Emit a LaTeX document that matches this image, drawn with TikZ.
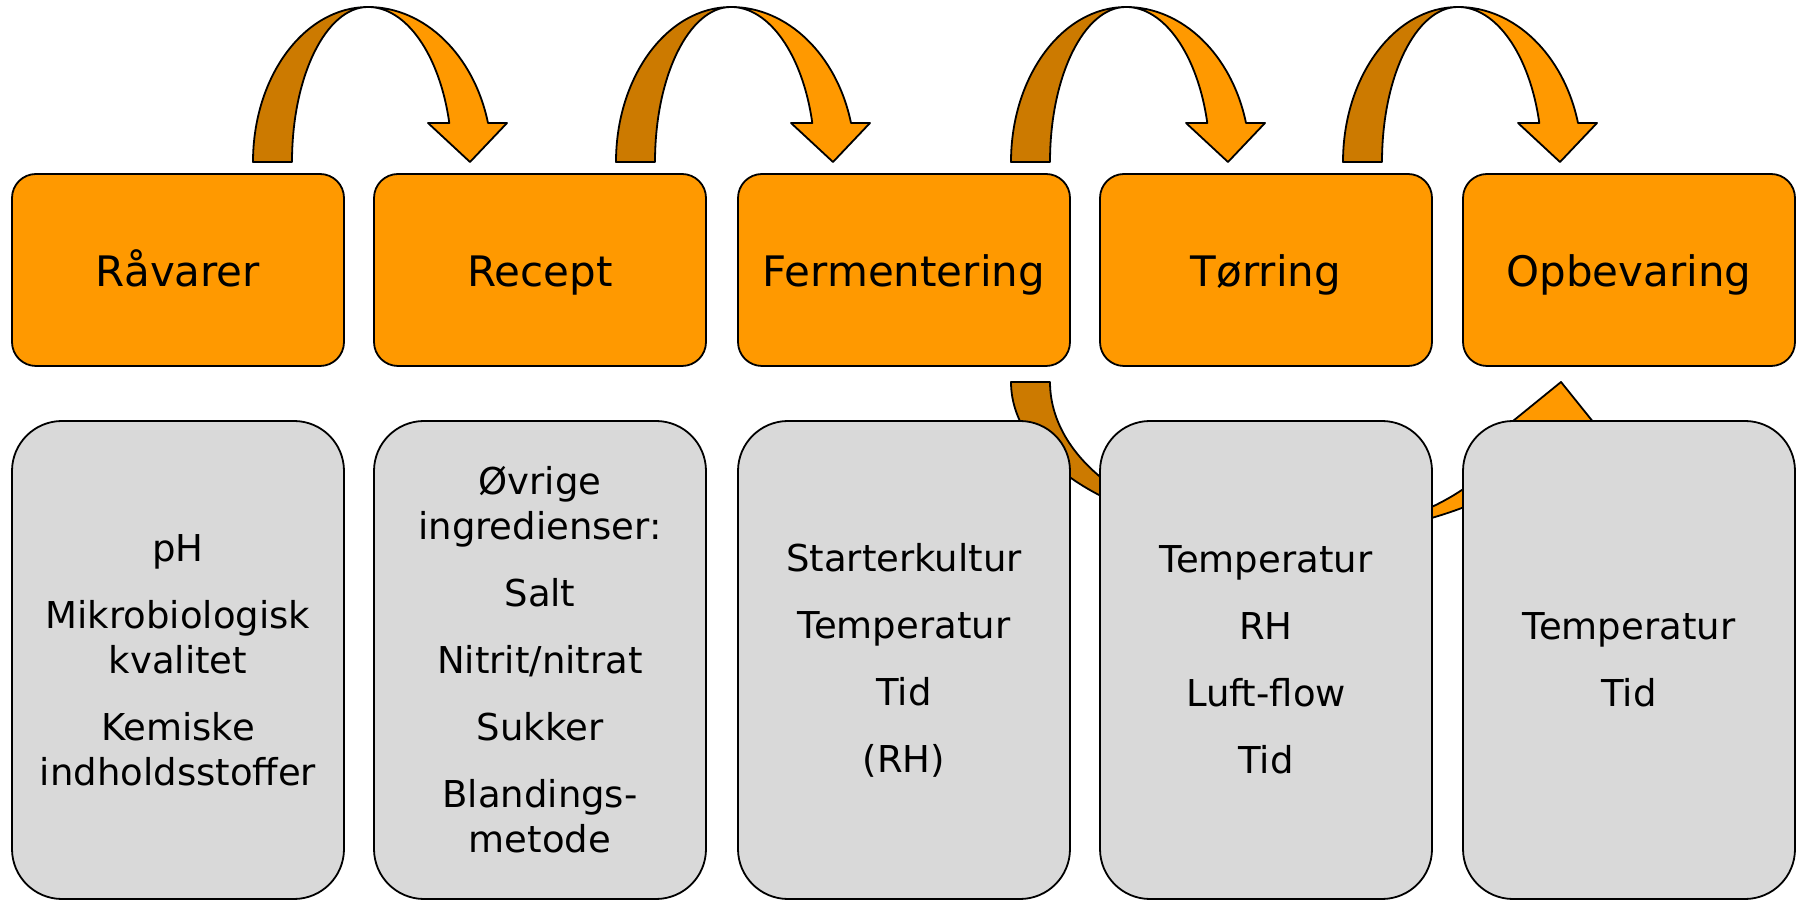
\documentclass[tikz,border=0pt]{standalone}
\usepackage{fontspec}
\setmainfont{DejaVu Sans}
\definecolor{stepor}{HTML}{FF9900}
\definecolor{stepdark}{HTML}{CC7A00}
\definecolor{factgray}{HTML}{D9D9D9}
\tikzset{
  outline/.style={draw=black, line width=1.8pt, line join=round},
  stagebox/.style={outline, fill=stepor, rounded corners=24pt,
    minimum width=332pt, minimum height=192pt, inner sep=0pt,
    text height=44pt, text depth=10pt,
    font=\fontsize{42}{50}\selectfont},
  factbox/.style={outline, fill=factgray, rounded corners=50pt,
    minimum width=332pt, minimum height=478pt, inner sep=0pt,
    align=center, font=\fontsize{37}{45}\selectfont},
  % curved block arrow; origin = bottom-left corner of its rising foot
  overarrow/.pic={
    \filldraw[outline, fill=stepdark] (0,0)
      arc[start angle=180, end angle=90, x radius=115, y radius=155]
      arc[start angle=90, end angle=180, x radius=76, y radius=155] -- cycle;
    \filldraw[outline, fill=stepor] (115,155)
      arc[start angle=90, end angle=14.57, x radius=124, y radius=155]
      -- (254,39) -- (217,0) -- (175,39) -- (196.3,39)
      arc[start angle=14.57, end angle=90, x radius=84, y radius=155] -- cycle;
  }
}
\begin{document}
\begin{tikzpicture}[x=1pt, y=1pt]
\useasboundingbox (0,0) rectangle (1802,900);

% arrows between the stages
\pic at (253,738) {overarrow};
\pic at (616,738) {overarrow};
\pic at (1011,738) {overarrow};
\pic at (1343,738) {overarrow};

% lower arrow, running behind the fact boxes
\filldraw[outline, fill=stepdark] (1011,518)
  arc[start angle=180, end angle=270, x radius=279, y radius=155]
  arc[start angle=270, end angle=180, x radius=240, y radius=155] -- cycle;
\filldraw[outline, fill=stepor] (1290,363)
  arc[start angle=-90, end angle=-15.7, x radius=295, y radius=155]
  -- (1598,472) -- (1561,518) -- (1513,479) -- (1522,479)
  arc[start angle=-14.57, end angle=-90, x radius=240, y radius=155] -- cycle;

% process stages
\node[stagebox] (r1) at (178,630) {Råvarer};
\node[stagebox] (r2) at (540,630) {Recept};
\node[stagebox] (r3) at (904,630) {Fermentering};
\node[stagebox] (r4) at (1266,630) {Tørring};
\node[stagebox] (r5) at (1629,630) {Opbevaring};

% parameters of each stage
\node[factbox] (p1) at (178,240) {pH\\[22pt]Mikrobiologisk\\kvalitet\\[22pt]Kemiske\\indholdsstoffer};
\node[factbox] (p2) at (540,240) {Øvrige\\ingredienser:\\[22pt]Salt\\[22pt]Nitrit/nitrat\\[22pt]Sukker\\[22pt]Blandings-\\metode};
\node[factbox] (p3) at (904,240) {Starterkultur\\[22pt]Temperatur\\[22pt]Tid\\[22pt](RH)};
\node[factbox] (p4) at (1266,240) {Temperatur\\[22pt]RH\\[22pt]Luft-flow\\[22pt]Tid};
\node[factbox] (p5) at (1629,240) {Temperatur\\[22pt]Tid};
\end{tikzpicture}
\end{document}
